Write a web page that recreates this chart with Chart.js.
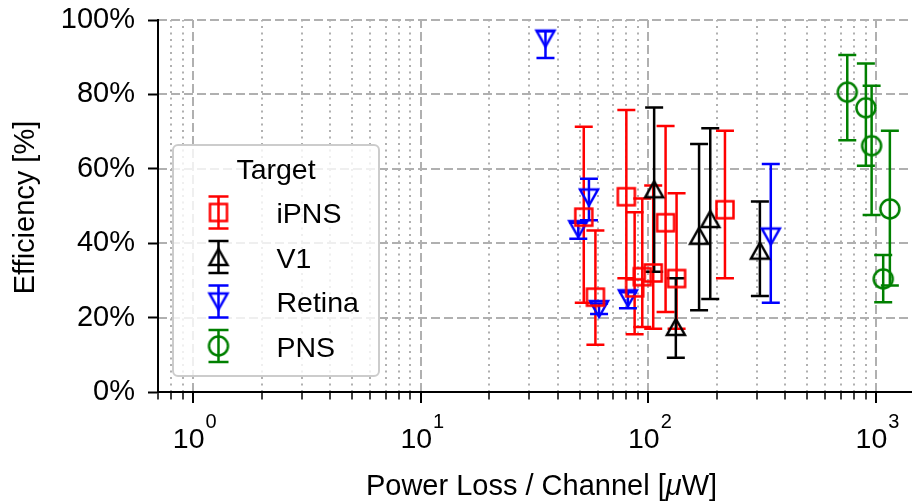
<!DOCTYPE html>
<html><head><meta charset="utf-8">
<script src="https://cdn.jsdelivr.net/npm/chart.js@4/dist/chart.umd.min.js"></script>
<style>html,body{margin:0;padding:0;background:#fff;}#wrap{width:912px;height:502px;}</style>
</head><body><div id="wrap"><canvas id="c" width="912" height="502"></canvas></div>
<script>
// ---------- data ----------
const seriesNames = ['iPNS', 'V1', 'Retina', 'PNS'];
const seriesColors = ['#ff0000', '#000000', '#0000ff', '#008000'];

// iPNS: power loss per channel [uW], efficiency [%], error low / high [%]
const ipnsX    = [52, 58.5, 80, 87, 94, 105, 119, 133, 217];
const ipnsY    = [47, 25.5, 52.5, 28, 31, 32, 45.5, 30.5, 49];
const ipnsLow  = [24, 12.7, 30.6, 15.5, 17.5, 17, 21.5, 17, 30.6];
const ipnsHigh = [71.3, 43.4, 75.8, 48.3, 52, 55.5, 71.5, 53.4, 70.2];

// V1
const v1X    = [106, 132, 167, 187, 309];
const v1Y    = [54.5, 17.5, 42, 46.5, 38];
const v1Low  = [32.3, 9.2, 22, 25, 25.8];
const v1High = [76.5, 30.6, 66.7, 70.9, 51.2];

// Retina
const retinaX    = [35.3, 49.2, 54.8, 60.7, 81.3, 345];
const retinaY    = [95, 43.8, 52.3, 22.3, 25.2, 41.8];
const retinaLow  = [89.8, 41.2, 46.2, 21, 22.5, 24];
const retinaHigh = [97, 45.5, 57.3, 23.8, 26.8, 61.3];

// PNS
const pnsX    = [748, 903, 957, 1076, 1151];
const pnsY    = [80.6, 76.4, 66.2, 30.4, 49.2];
const pnsLow  = [67.7, 60.8, 47.6, 24.1, 28.6];
const pnsHigh = [90.6, 88.3, 82.3, 36.8, 70.2];

// axes
const xMajorTicks = [1, 10, 100, 1000];
const xMajorExp   = ['0', '1', '2', '3'];
const yTicks      = [0, 20, 40, 60, 80, 100];
const xTitleA = 'Power Loss / Channel [';
const xTitleMu = '\u03BC';
const xTitleB = 'W]';
const yTitle = 'Efficiency [%]';
const legendTitle = 'Target';

// ---------- styling ----------
const FONT = "'Liberation Sans', Arial, sans-serif";
const GRID = '#b0b0b0';
const LW = 2.5;

function makeMarker(shape, color) {
  const c = document.createElement('canvas');
  c.width = 28; c.height = 28;
  const g = c.getContext('2d');
  g.strokeStyle = color; g.lineWidth = LW; g.lineJoin = 'miter';
  const cx = 14, cy = 14;
  g.beginPath();
  if (shape === 'square') g.rect(cx - 8.5, cy - 8.5, 17, 17);
  else if (shape === 'up') { g.moveTo(cx, cy - 8); g.lineTo(cx + 9, cy + 8); g.lineTo(cx - 9, cy + 8); g.closePath(); }
  else if (shape === 'down') { g.moveTo(cx, cy + 8); g.lineTo(cx + 9, cy - 8); g.lineTo(cx - 9, cy - 8); g.closePath(); }
  else g.arc(cx, cy, 9.5, 0, Math.PI * 2);
  g.stroke();
  return c;
}
const shapes = ['square', 'up', 'down', 'circle'];
const markers = shapes.map((s, i) => makeMarker(s, seriesColors[i]));

function pts(xs, ys) { return xs.map((x, i) => ({x: x, y: ys[i]})); }
const allX = [ipnsX, v1X, retinaX, pnsX];
const allY = [ipnsY, v1Y, retinaY, pnsY];
const allLow = [ipnsLow, v1Low, retinaLow, pnsLow];
const allHigh = [ipnsHigh, v1High, retinaHigh, pnsHigh];

const datasets = seriesNames.map((n, i) => ({
  label: n,
  data: pts(allX[i], allY[i]),
  errLow: allLow[i],
  errHigh: allHigh[i],
  pointStyle: markers[i],
  pointRadius: 9,
  borderColor: seriesColors[i],
  backgroundColor: 'transparent',
  showLine: false
}));

// gridlines (drawn before axes)
const gridPlugin = {
  id: 'gridPlugin',
  beforeDraw(chart) {
    const ctx = chart.ctx, ca = chart.chartArea, xs = chart.scales.x, ys = chart.scales.y;
    ctx.save();
    ctx.beginPath(); ctx.rect(ca.left, ca.top - 2, ca.right - ca.left, ca.bottom - ca.top + 2); ctx.clip();
    // minor vertical dotted
    ctx.strokeStyle = GRID; ctx.lineWidth = 2; ctx.setLineDash([2, 4.5]);
    xMajorTicks.concat([0.1]).forEach(dec => {
      for (let m = 2; m <= 9; m++) {
        const v = m * dec;
        if (v <= xs.min || v >= xs.max) continue;
        const px = Math.round(xs.getPixelForValue(v));
        ctx.beginPath(); ctx.moveTo(px, ca.bottom); ctx.lineTo(px, ca.top); ctx.stroke();
      }
    });
    // major dashed
    ctx.setLineDash([9, 4]);
    xMajorTicks.forEach(v => {
      const px = Math.round(xs.getPixelForValue(v));
      ctx.beginPath(); ctx.moveTo(px, ca.bottom); ctx.lineTo(px, ca.top); ctx.stroke();
    });
    yTicks.forEach(v => {
      if (v === 0) return;
      const py = Math.round(ys.getPixelForValue(v));
      ctx.beginPath(); ctx.moveTo(ca.left, py); ctx.lineTo(ca.right, py); ctx.stroke();
    });
    ctx.restore();
  }
};

// error bars (beneath the markers)
const errPlugin = {
  id: 'errPlugin',
  beforeDatasetsDraw(chart) {
    const ctx = chart.ctx, xs = chart.scales.x, ys = chart.scales.y;
    ctx.save();
    ctx.lineWidth = LW; ctx.setLineDash([]);
    chart.data.datasets.forEach(ds => {
      ctx.strokeStyle = ds.borderColor;
      ds.data.forEach((p, i) => {
        const px = xs.getPixelForValue(p.x);
        const y1 = ys.getPixelForValue(ds.errLow[i]);
        const y2 = ys.getPixelForValue(ds.errHigh[i]);
        ctx.beginPath();
        ctx.moveTo(px, y1); ctx.lineTo(px, y2);
        ctx.moveTo(px - 9, y1); ctx.lineTo(px + 9, y1);
        ctx.moveTo(px - 9, y2); ctx.lineTo(px + 9, y2);
        ctx.stroke();
      });
    });
    ctx.restore();
  }
};

// x ticks, labels, titles, legend
const decorPlugin = {
  id: 'decorPlugin',
  afterDraw(chart) {
    const ctx = chart.ctx, ca = chart.chartArea, xs = chart.scales.x;
    ctx.save();
    ctx.setLineDash([]);
    ctx.strokeStyle = '#000';
    // x ticks
    xMajorTicks.concat([0.1]).forEach(dec => {
      for (let m = 1; m <= 9; m++) {
        const v = m * dec;
        if (v < xs.min || v > xs.max) continue;
        const px = Math.round(xs.getPixelForValue(v));
        ctx.lineWidth = m === 1 ? 2 : 1.5;
        ctx.beginPath(); ctx.moveTo(px, ca.bottom); ctx.lineTo(px, ca.bottom + (m === 1 ? 11 : 7.5)); ctx.stroke();
      }
    });
    // x tick labels 10^n
    ctx.fillStyle = '#000';
    ctx.textBaseline = 'alphabetic'; ctx.textAlign = 'left';
    xMajorTicks.forEach((v, i) => {
      const px = xs.getPixelForValue(v);
      ctx.font = '28.5px ' + FONT;
      const wb = ctx.measureText('10').width;
      ctx.font = '20px ' + FONT;
      const we = ctx.measureText(xMajorExp[i]).width;
      const x0 = px - (wb + we) / 2 + 1;
      ctx.font = '28.5px ' + FONT;
      ctx.fillText('10', x0, 448);
      ctx.font = '20px ' + FONT;
      ctx.fillText(xMajorExp[i], x0 + wb + 1, 428);
    });
    // x title
    ctx.font = '29px ' + FONT;
    const wa = ctx.measureText(xTitleA).width, wbb = ctx.measureText(xTitleB).width;
    ctx.font = 'italic 29px ' + FONT;
    const wm = ctx.measureText(xTitleMu).width;
    let tx = 541.5 - (wa + wm + wbb) / 2;
    ctx.font = '29px ' + FONT; ctx.fillText(xTitleA, tx, 495); tx += wa;
    ctx.font = 'italic 29px ' + FONT; ctx.fillText(xTitleMu, tx, 495); tx += wm;
    ctx.font = '29px ' + FONT; ctx.fillText(xTitleB, tx, 495);
    // y title
    ctx.save();
    ctx.translate(34, 207.5); ctx.rotate(-Math.PI / 2);
    ctx.textAlign = 'center'; ctx.font = '29px ' + FONT;
    ctx.fillText(yTitle, 0, 0);
    ctx.restore();

    // legend
    const L = 173, T = 145, R = 379, B = 376, r = 5;
    ctx.beginPath();
    ctx.moveTo(L + r, T); ctx.lineTo(R - r, T); ctx.arcTo(R, T, R, T + r, r);
    ctx.lineTo(R, B - r); ctx.arcTo(R, B, R - r, B, r);
    ctx.lineTo(L + r, B); ctx.arcTo(L, B, L, B - r, r);
    ctx.lineTo(L, T + r); ctx.arcTo(L, T, L + r, T, r); ctx.closePath();
    ctx.fillStyle = 'rgba(255,255,255,0.8)'; ctx.fill();
    ctx.strokeStyle = '#cccccc'; ctx.lineWidth = 2; ctx.stroke();
    ctx.fillStyle = '#000'; ctx.font = '28.5px ' + FONT;
    ctx.textAlign = 'center'; ctx.fillText(legendTitle, 276, 179);
    ctx.textAlign = 'left';
    seriesNames.forEach((n, i) => {
      const cy = 212.5 + i * 44.5, cx = 218.5;
      ctx.strokeStyle = seriesColors[i]; ctx.lineWidth = LW;
      ctx.beginPath();
      ctx.moveTo(cx, cy - 16); ctx.lineTo(cx, cy + 16);
      ctx.moveTo(cx - 10, cy - 16); ctx.lineTo(cx + 10, cy - 16);
      ctx.moveTo(cx - 10, cy + 16); ctx.lineTo(cx + 10, cy + 16);
      ctx.stroke();
      ctx.drawImage(markers[i], cx - 14, cy - 14);
      ctx.fillStyle = '#000';
      ctx.fillText(n, 276.5, cy + 10.5);
    });
    ctx.restore();
  }
};

const chart = new Chart(document.getElementById('c'), {
  type: 'scatter',
  data: {datasets: datasets},
  options: {
    responsive: false, animation: false, devicePixelRatio: 1,
    layout: {autoPadding: false, padding: {top: 20, left: 0, right: 0, bottom: 0}},
    plugins: {legend: {display: false}, tooltip: {enabled: false}},
    scales: {
      x: {
        type: 'logarithmic', min: 0.702, max: 1440,
        ticks: {display: false},
        grid: {display: false},
        border: {display: true, color: '#000', width: 2},
        afterFit(s) { s.height = 110; s.paddingLeft = 0; s.paddingRight = 0; }
      },
      y: {
        type: 'linear', min: 0, max: 100,
        afterBuildTicks(s) { s.ticks = yTicks.map(v => ({value: v})); },
        ticks: {callback: v => v + '%', font: {family: FONT, size: 29}, color: '#000', padding: 13, autoSkip: false},
        grid: {drawOnChartArea: false, drawTicks: true, tickLength: 10, tickWidth: 2, tickColor: '#000'},
        border: {color: '#000', width: 2},
        afterFit(s) { s.width = 158; s.paddingTop = 0; s.paddingBottom = 0; }
      }
    }
  },
  plugins: [gridPlugin, errPlugin, decorPlugin]
});
</script></body></html>
